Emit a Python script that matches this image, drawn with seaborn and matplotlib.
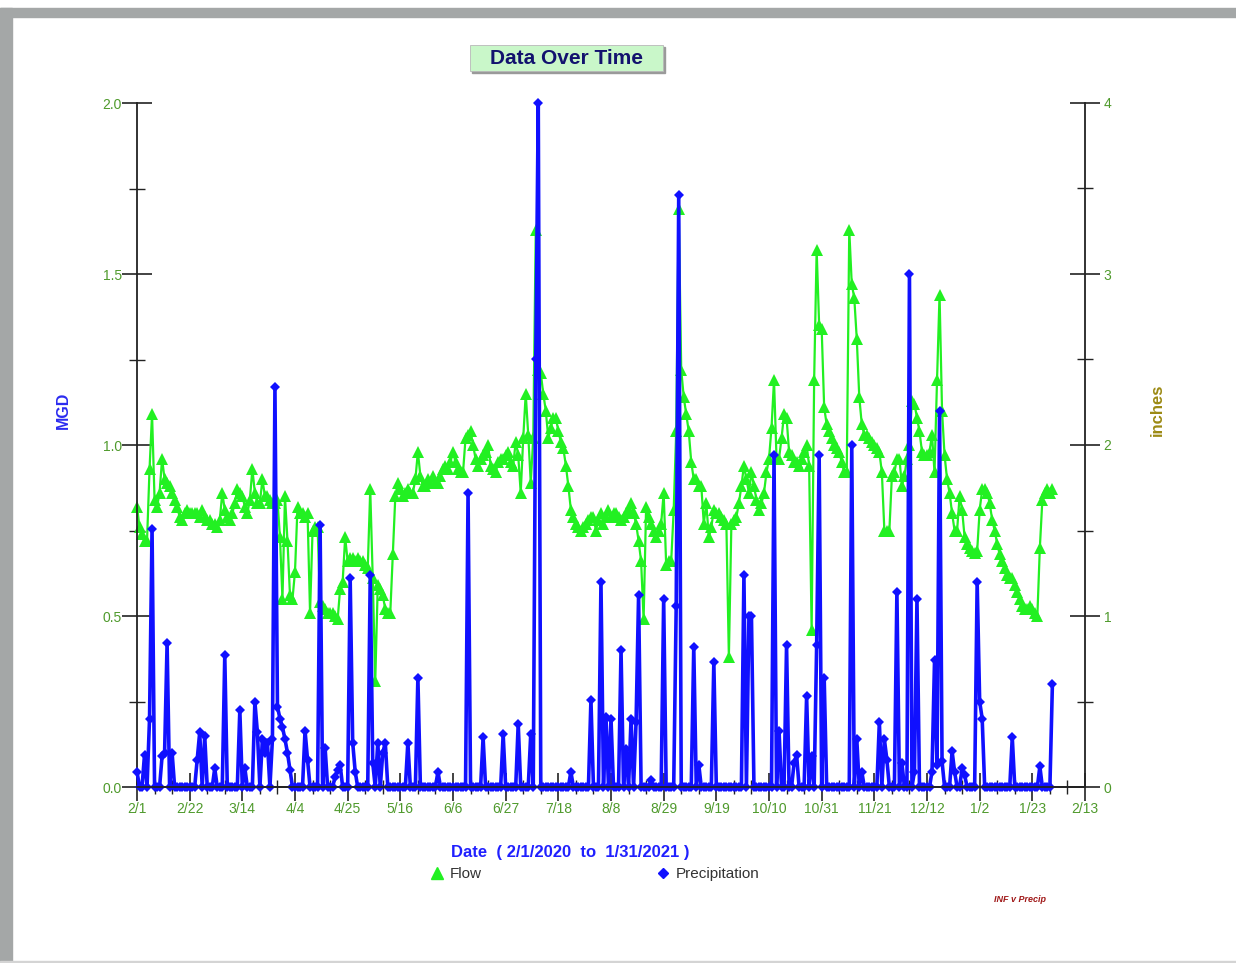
import matplotlib
matplotlib.use("Agg")
import matplotlib.pyplot as plt
from matplotlib.patches import Rectangle
from matplotlib.lines import Line2D
from matplotlib.ticker import FixedLocator, MultipleLocator
import pandas as pd
import seaborn as sns

sns.set_theme(style="white")
plt.rcParams['font.family'] = ['Liberation Sans', 'DejaVu Sans']

# daily flow (MGD), one list per month
flow_feb = [0.82, 0.76, 0.74, 0.72, 0.72, 0.93, 1.09, 0.84, 0.82, 0.86,
            0.96, 0.90, 0.89, 0.88, 0.86, 0.84, 0.82, 0.79, 0.78, 0.80,
            0.81, 0.80, 0.80, 0.80, 0.80, 0.79, 0.81, 0.79, 0.78]
flow_mar = [0.78, 0.77, 0.77, 0.76, 0.78, 0.86, 0.81, 0.79, 0.78, 0.80,
            0.83, 0.87, 0.86, 0.85, 0.82, 0.80, 0.84, 0.93, 0.86, 0.83,
            0.83, 0.90, 0.85, 0.85, 0.84, 0.83, 0.83, 0.84, 0.73, 0.55, 0.85]
flow_apr = [0.72, 0.56, 0.55, 0.63, 0.82, 0.80, 0.80, 0.79, 0.80, 0.51,
            0.75, 0.76, 0.76, 0.54, 0.53, 0.52, 0.51, 0.51, 0.51, 0.50,
            0.49, 0.58, 0.60, 0.73, 0.66, 0.67, 0.67, 0.66, 0.67, 0.66]
flow_may = [0.66, 0.65, 0.64, 0.87, 0.61, 0.31, 0.59, 0.58, 0.56, 0.52,
            0.51, 0.51, 0.68, 0.85, 0.89, 0.87, 0.85, 0.86, 0.87, 0.86,
            0.86, 0.90, 0.98, 0.91, 0.88, 0.88, 0.90, 0.89, 0.91, 0.89, 0.89]
flow_jun = [0.91, 0.93, 0.94, 0.93, 0.95, 0.98, 0.95, 0.93, 0.92, 0.92,
            1.02, 1.03, 1.04, 1.00, 0.96, 0.94, 0.96, 0.97, 0.98, 1.00,
            0.94, 0.93, 0.92, 0.95, 0.96, 0.96, 0.97, 0.98, 0.95, 0.94]
flow_jul = [1.01, 0.97, 0.86, 1.02, 1.15, 1.03, 0.89, 1.02, 1.63, 1.22,
            1.21, 1.15, 1.10, 1.02, 1.05, 1.08, 1.08, 1.04, 1.01, 0.99,
            0.94, 0.88, 0.81, 0.79, 0.77, 0.76, 0.75, 0.76, 0.77, 0.78, 0.79]
flow_aug = [0.79, 0.75, 0.78, 0.80, 0.77, 0.79, 0.81, 0.79, 0.80, 0.80,
            0.79, 0.78, 0.79, 0.80, 0.81, 0.83, 0.80, 0.77, 0.72, 0.66,
            0.49, 0.82, 0.79, 0.77, 0.75, 0.73, 0.75, 0.77, 0.86, 0.65, 0.66]
flow_sep = [0.66, 0.81, 1.04, 1.69, 1.22, 1.14, 1.09, 1.04, 0.95, 0.90,
            0.90, 0.88, 0.88, 0.77, 0.83, 0.73, 0.76, 0.81, 0.80, 0.80,
            0.79, 0.78, 0.77, 0.38, 0.77, 0.78, 0.79, 0.83, 0.88, 0.94]
flow_oct = [0.90, 0.86, 0.92, 0.88, 0.84, 0.81, 0.83, 0.86, 0.92, 0.96,
            1.05, 1.19, 0.96, 0.96, 1.02, 1.09, 1.08, 0.98, 0.97, 0.95,
            0.95, 0.94, 0.96, 0.98, 1.00, 0.94, 0.46, 1.19, 1.57, 1.35, 1.34]
flow_nov = [1.11, 1.06, 1.04, 1.02, 1.00, 0.99, 0.98, 0.95, 0.92, 0.92,
            1.63, 1.47, 1.43, 1.31, 1.14, 1.06, 1.03, 1.03, 1.02, 1.01,
            1.00, 0.99, 0.98, 0.92, 0.75, 0.75, 0.75, 0.91, 0.92, 0.96]
flow_dec = [0.96, 0.88, 0.91, 0.96, 1.00, 1.13, 1.12, 1.08, 1.04, 0.98,
            0.97, 0.97, 0.98, 1.03, 0.92, 1.19, 1.44, 1.10, 0.97, 0.90,
            0.86, 0.80, 0.75, 0.75, 0.85, 0.81, 0.73, 0.71, 0.70, 0.69, 0.685]
flow_jan = [0.69, 0.81, 0.87, 0.87, 0.86, 0.83, 0.78, 0.75, 0.71, 0.68,
            0.66, 0.64, 0.62, 0.61, 0.61, 0.59, 0.57, 0.55, 0.53, 0.52,
            0.52, 0.53, 0.52, 0.51, 0.50, 0.70, 0.84, 0.86, 0.87, 0.86, 0.87]

# daily precipitation (inches)
rain_feb = [0.09, 0, 0, 0.19, 0, 0.40, 1.51, 0, 0, 0,
            0.18, 0.20, 0.84, 0, 0.20, 0, 0, 0, 0, 0,
            0, 0, 0, 0, 0.16, 0.32, 0, 0.30, 0]
rain_mar = [0, 0, 0.11, 0, 0, 0, 0.77, 0, 0, 0,
            0, 0, 0.45, 0, 0.11, 0, 0, 0, 0.50, 0.32,
            0, 0.28, 0.20, 0.26, 0, 0.28, 2.34, 0.47, 0.40, 0.35, 0.28]
rain_apr = [0.20, 0.10, 0, 0, 0, 0, 0, 0.33, 0.16, 0,
            0, 0, 0, 1.53, 0, 0.23, 0, 0, 0, 0.06,
            0.10, 0.13, 0, 0, 0, 1.22, 0.26, 0.09, 0, 0]
rain_may = [0, 0, 0, 1.24, 0.14, 0, 0.26, 0, 0.20, 0.26,
            0, 0, 0, 0, 0, 0, 0, 0, 0.26, 0,
            0, 0, 0.64, 0, 0, 0, 0, 0, 0, 0, 0.09]
rain_jun = [0, 0, 0, 0, 0, 0, 0, 0, 0, 0,
            0, 1.72, 0, 0, 0, 0, 0, 0.29, 0, 0,
            0, 0, 0, 0, 0, 0.31, 0, 0, 0, 0]
rain_jul = [0, 0.37, 0, 0, 0, 0, 0.31, 0, 2.50, 4.00,
            0, 0, 0, 0, 0, 0, 0, 0, 0, 0,
            0, 0, 0.09, 0, 0, 0, 0, 0, 0, 0, 0.51]
rain_aug = [0, 0, 0, 1.20, 0, 0.41, 0, 0.40, 0, 0,
            0, 0.80, 0, 0.22, 0, 0.40, 0, 0.38, 1.12, 0,
            0, 0, 0, 0.04, 0, 0, 0, 0, 1.10, 0, 0]
rain_sep = [0, 0, 1.06, 3.46, 0, 0, 0, 0, 0, 0.82,
            0, 0.13, 0, 0, 0, 0, 0, 0.73, 0, 0,
            0, 0, 0, 0, 0, 0, 0, 0, 0, 1.24]
rain_oct = [0, 1.00, 1.00, 0, 0, 0, 0, 0, 0, 0,
            0, 1.94, 0, 0.33, 0, 0, 0.83, 0, 0, 0.14,
            0.19, 0, 0, 0, 0.53, 0, 0.18, 0, 0.83, 1.94, 0]
rain_nov = [0.64, 0, 0, 0, 0, 0, 0, 0, 0, 0,
            0, 2.00, 0, 0.28, 0, 0.09, 0, 0, 0, 0,
            0, 0, 0.38, 0, 0.28, 0.16, 0, 0, 0, 1.14]
rain_dec = [0, 0.14, 0, 0, 3.00, 0, 0.09, 1.10, 0, 0,
            0, 0, 0, 0.09, 0.74, 0.13, 2.20, 0.15, 0, 0,
            0, 0.21, 0.09, 0, 0, 0.11, 0.07, 0, 0, 0, 0]
rain_jan = [1.20, 0.50, 0.40, 0, 0, 0, 0, 0, 0, 0,
            0, 0, 0, 0, 0.29, 0, 0, 0, 0, 0,
            0, 0, 0, 0, 0, 0.12, 0, 0, 0, 0, 0.60]

flow = (flow_feb + flow_mar + flow_apr + flow_may + flow_jun + flow_jul +
        flow_aug + flow_sep + flow_oct + flow_nov + flow_dec + flow_jan)
precip = (rain_feb + rain_mar + rain_apr + rain_may + rain_jun + rain_jul +
          rain_aug + rain_sep + rain_oct + rain_nov + rain_dec + rain_jan)

dates = pd.date_range("2020-02-01", "2021-01-31", freq="D")
df = pd.DataFrame({"date": dates, "flow": flow, "precip": precip})

major_days = pd.date_range("2020-02-01", periods=19, freq="21D")
minor_days = pd.date_range("2020-02-01", "2021-02-13", freq="7D")
tick_labels = [f"{d.month}/{d.day}" for d in major_days]

GREEN = "#22f022"
BLUE = "#1010ff"
LABEL = "#4f9a2c"

W, H = 1236, 963
fig = plt.figure(figsize=(W / 100, H / 100), dpi=100)
fig.patch.set_facecolor("white")

# grey frame like the screenshot
fig.add_artist(Rectangle((0, 1 - 17 / H), 1, 9 / H, transform=fig.transFigure,
                         color="#a4a7a7", zorder=0))
fig.add_artist(Rectangle((0, 0), 12 / W, 1 - 8 / H, transform=fig.transFigure,
                         color="#a4a7a7", zorder=0))
fig.add_artist(Rectangle((0, 0), 1, 2 / H, transform=fig.transFigure,
                         color="#d4d4d4", zorder=0))

ax = fig.add_axes([137 / W, 1 - 787 / H, (1085 - 137) / W, (787 - 103) / H])
ax.set_facecolor("none")
ax2 = ax.twinx()

sns.lineplot(data=df, x="date", y="flow", ax=ax, color=GREEN, lw=1.6,
             marker="^", markersize=8, markeredgecolor=GREEN,
             markeredgewidth=0, clip_on=False)
sns.lineplot(data=df, x="date", y="precip", ax=ax2, color=BLUE, lw=2.6,
             marker="D", markersize=5, markeredgecolor=BLUE,
             markeredgewidth=0, clip_on=False)

ax.set_xlim(pd.Timestamp("2020-02-01"), pd.Timestamp("2021-02-13"))
ax.set_ylim(0, 2.0)
ax2.set_ylim(0, 4)

ax.xaxis.set_major_locator(FixedLocator(matplotlib.dates.date2num(major_days)))
ax.xaxis.set_minor_locator(FixedLocator(matplotlib.dates.date2num(minor_days)))
ax.set_xticklabels(tick_labels)
ax.yaxis.set_major_locator(MultipleLocator(0.5))
ax.yaxis.set_minor_locator(MultipleLocator(0.25))
ax.set_yticklabels([f"{v:.1f}" for v in ax.get_yticks()])
ax2.yaxis.set_major_locator(MultipleLocator(1))
ax2.yaxis.set_minor_locator(MultipleLocator(0.5))
ax2.set_yticklabels([f"{v:.0f}" for v in ax2.get_yticks()])

for a in (ax, ax2):
    a.grid(False)
    a.set_xlabel("")
    a.set_ylabel("")
    a.spines["top"].set_visible(False)
    for s in a.spines.values():
        s.set_color("#222222")
        s.set_linewidth(1.3)
ax.spines["right"].set_visible(False)
ax2.spines["left"].set_visible(False)

ax.tick_params(axis="x", which="major", bottom=True, direction="inout",
               length=20, width=1.2, color="#222222", labelcolor=LABEL,
               labelsize=10, pad=1)
ax.tick_params(axis="x", which="minor", bottom=True, direction="inout",
               length=10, width=1.0, color="#222222")
ax.tick_params(axis="y", which="major", left=True, direction="inout",
               length=21, width=1.2, color="#222222", labelcolor=LABEL,
               labelsize=10, pad=0.5)
ax.tick_params(axis="y", which="minor", left=True, direction="inout",
               length=11, width=1.0, color="#222222")
ax2.tick_params(axis="y", which="major", right=True, direction="inout",
                length=21, width=1.2, color="#222222", labelcolor=LABEL,
                labelsize=10, pad=3)
ax2.tick_params(axis="y", which="minor", right=True, direction="inout",
                length=11, width=1.0, color="#222222")

# axis titles
fig.text(63 / W, 1 - 410 / H, "MGD", rotation=90, ha="center", va="center",
         color="#2b2bf0", fontsize=11.5, fontweight="bold")
fig.text(1157 / W, 1 - 410 / H, "inches", rotation=90, ha="center",
         va="center", color="#9c8a14", fontsize=12, fontweight="bold")
fig.text(570 / W, 1 - 853 / H, "Date  ( 2/1/2020  to  1/31/2021 )",
         ha="center", va="center", color="#2020ff", fontsize=12,
         fontweight="bold")

# title box
fig.add_artist(Rectangle((472 / W, 1 - 73 / H), 193 / W, 26 / H,
                         transform=fig.transFigure, color="#9a9a9a", zorder=1))
fig.add_artist(Rectangle((470 / W, 1 - 71 / H), 193 / W, 26 / H,
                         transform=fig.transFigure, facecolor="#c9f7c9",
                         edgecolor="#b8b8b8", lw=0.6, zorder=2))
fig.text(567 / W, 1 - 58 / H, "Data Over Time", ha="center", va="center",
         color="#12126e", fontsize=15, fontweight="bold", zorder=3)

# legend
flow_h = Line2D([], [], ls="none", marker="^", color=GREEN, markersize=8)
rain_h = Line2D([], [], ls="none", marker="D", color=BLUE, markersize=5.5)
for h, lab, x0 in [(flow_h, "Flow", 430), (rain_h, "Precipitation", 656)]:
    fig.legend(handles=[h], labels=[lab], loc="center left",
               bbox_to_anchor=(x0 / W, 1 - 874 / H), frameon=False,
               handlelength=0.9, handletextpad=0.4, borderpad=0,
               borderaxespad=0, prop={"size": 11}, labelcolor="#333333")

fig.text(1020 / W, 1 - 899 / H, "INF v Precip", ha="center", va="center",
         color="#a01818", fontsize=6.5, fontweight="bold", style="italic")

fig.savefig("out.png", dpi=100)
